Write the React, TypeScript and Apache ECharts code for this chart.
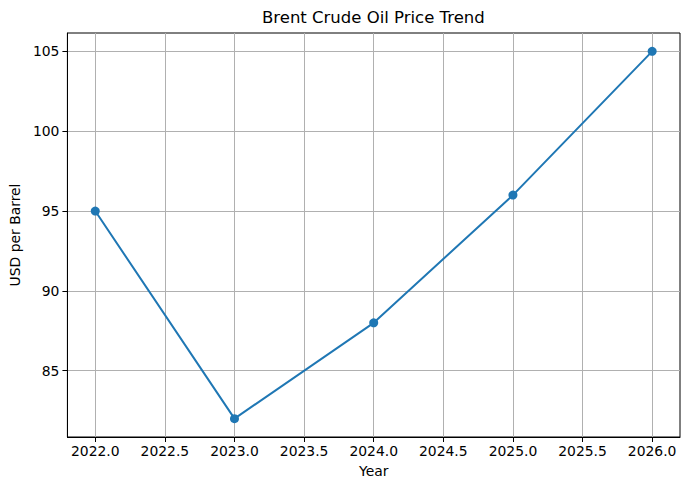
import React, { useEffect, useRef } from "react";
import * as echarts from "echarts";

const years = [2022, 2023, 2024, 2025, 2026];
const prices = [95, 82, 88, 96, 105];
const xTicks = [2022, 2022.5, 2023, 2023.5, 2024, 2024.5, 2025, 2025.5, 2026];
const yTicks = [85, 90, 95, 100, 105];

export default function App() {
  const ref = useRef<HTMLDivElement>(null);
  useEffect(() => {
    document.body.style.margin = "0";
    const chart = echarts.init(ref.current!, null, { renderer: "svg" });
    const font = "DejaVu Sans";
    chart.setOption({
      animation: false,
      backgroundColor: "#fff",
      title: {
        text: "Brent Crude Oil Price Trend",
        left: 262,
        top: 9,
        padding: 0,
        textStyle: { fontFamily: font, fontSize: 16.5, fontWeight: "normal", color: "#000" },
      },
      grid: {
        left: 66,
        right: 10,
        top: 33,
        bottom: 53,
        show: true,
        borderColor: "#000",
        borderWidth: 1,
        backgroundColor: "transparent",
      },
      xAxis: {
        type: "value",
        min: 2021.8,
        max: 2026.2,
        name: "Year",
        nameLocation: "middle",
        nameGap: 27,
        nameTextStyle: { fontFamily: font, fontSize: 13.9, color: "#000" },
        axisLine: { show: true, onZero: false, lineStyle: { color: "#000", width: 1 } },
        axisTick: { show: true, length: 5, customValues: xTicks, lineStyle: { color: "#000" } },
        axisLabel: {
          customValues: xTicks,
          formatter: (v: number) => v.toFixed(1),
          fontFamily: font,
          fontSize: 13.9,
          color: "#000",
          margin: 7,
        },
        splitLine: { show: true, lineStyle: { color: "#b0b0b0", width: 1 } },
      },
      yAxis: {
        type: "value",
        min: 80.85,
        max: 106.15,
        name: "USD per Barrel",
        nameLocation: "middle",
        nameGap: 44,
        nameTextStyle: { fontFamily: font, fontSize: 13.9, color: "#000" },
        axisLine: { show: true, onZero: false, lineStyle: { color: "#000", width: 1 } },
        axisTick: { show: true, length: 5, customValues: yTicks, lineStyle: { color: "#000" } },
        axisLabel: {
          customValues: yTicks,
          formatter: (v: number) => String(Math.round(v)),
          fontFamily: font,
          fontSize: 13.9,
          color: "#000",
          margin: 8,
        },
        splitLine: { show: true, lineStyle: { color: "#b0b0b0", width: 1 } },
      },
      series: [
        {
          type: "line",
          data: years.map((y, i) => [y, prices[i]]),
          symbol: "circle",
          symbolSize: 9,
          itemStyle: { color: "#1f77b4" },
          lineStyle: { color: "#1f77b4", width: 2 },
        },
      ],
    });
    return () => chart.dispose();
  }, []);
  return <div ref={ref} style={{ width: 690, height: 490 }} />;
}
